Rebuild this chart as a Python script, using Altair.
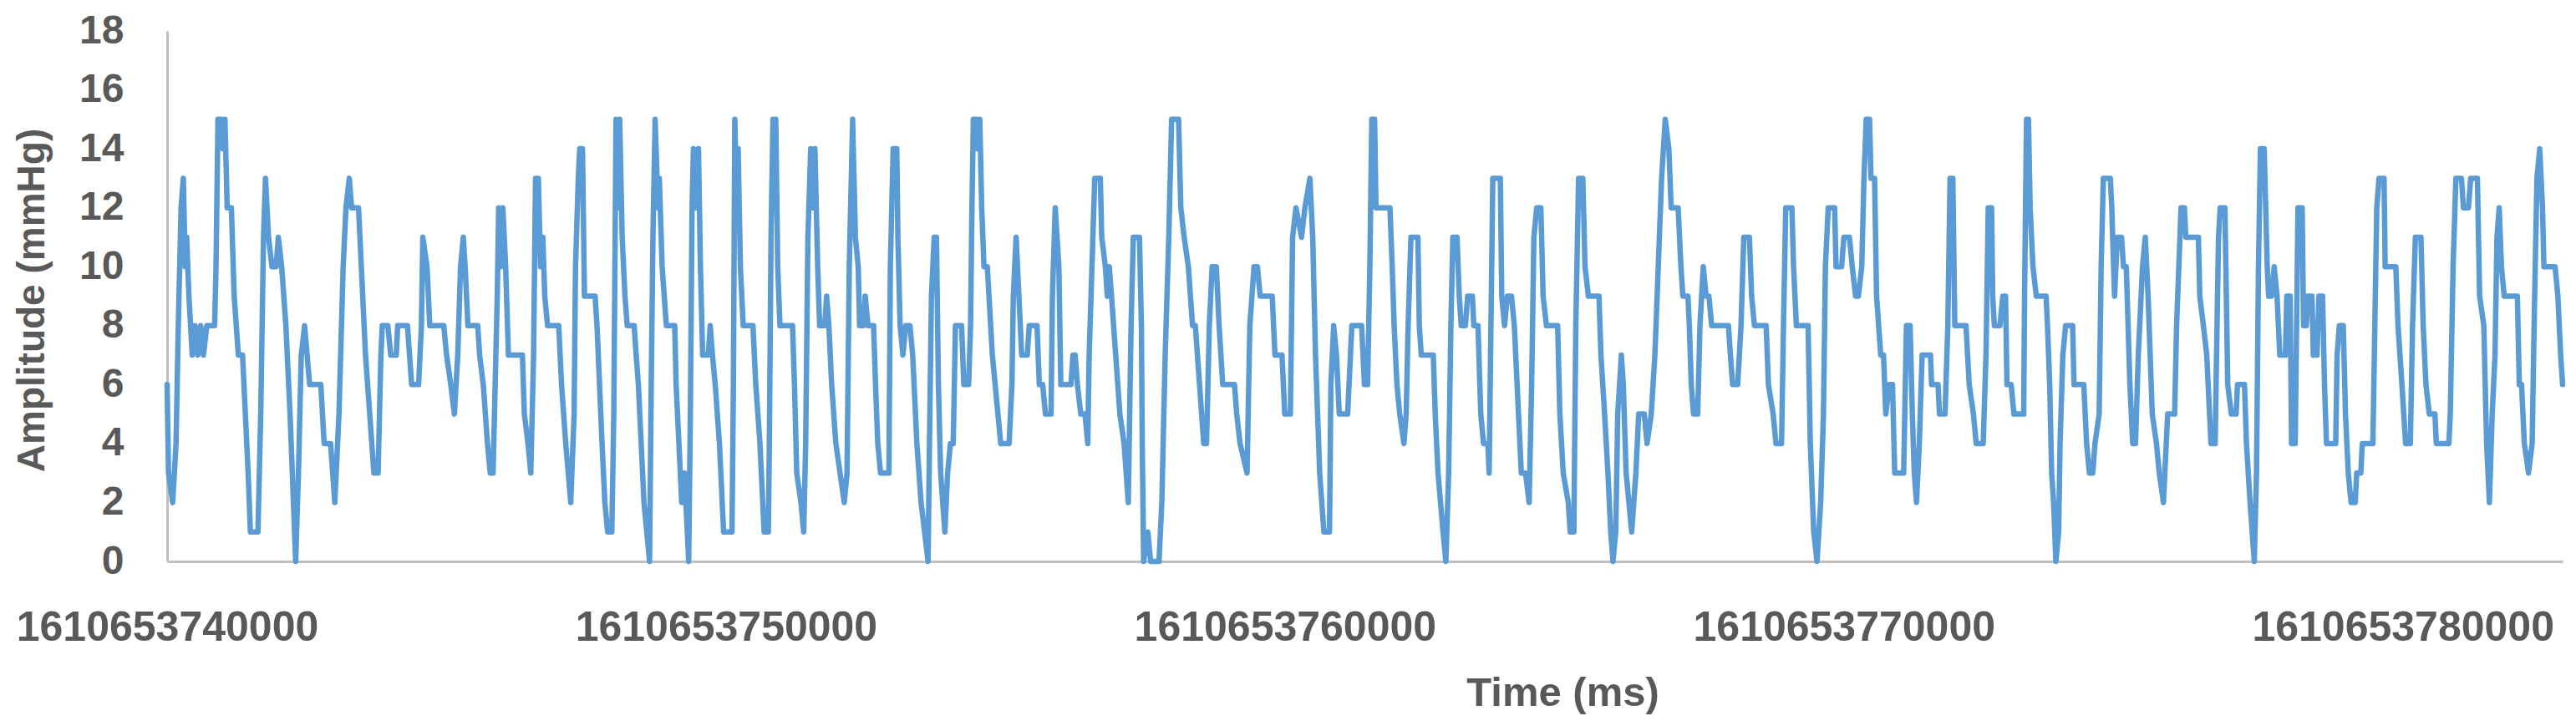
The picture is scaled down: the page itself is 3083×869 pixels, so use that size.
import altair as alt
import pandas as pd

BASE_MS = 1610653740000
X_END = 1610653782860

# (time offset from BASE_MS in ms, amplitude in mmHg)
seg1 = [(0,6),(25,3),(100,2),(160,4),(200,8),(250,12),(290,13),(325,10),(350,11),(390,9),(450,7),(500,8),(550,7),(600,8),(650,7),(710,8),(850,8),(875,10),(910,15),(975,15),(1000,14),(1035,15),(1075,12),(1150,12),(1200,9),(1275,7),(1350,7),(1450,3),(1490,1),(1625,1),(1675,5),(1725,11),(1760,13),(1815,11),(1875,10),(1950,10),(1990,11),(2050,10),(2125,8),(2200,5),(2300,0),(2350,3),(2400,7),(2460,8),(2550,6),(2750,6),(2810,4),(2925,4),(3000,2),(3075,5),(3150,10),(3200,12),(3260,13),(3300,12),(3425,12),(3550,7),(3700,3),(3775,3),(3825,7),(3850,8),(3950,8),(4000,7),(4100,7),(4125,8),(4300,8),(4375,6),(4500,6),(4550,8),(4575,11),(4650,10),(4700,8),(4950,8),(5000,7),(5075,6),(5140,5),(5200,7),(5250,10),(5300,11)]
seg2 = [(5332,10),(5382,8),(5557,8),(5592,7),(5657,6),(5732,4),(5782,3),(5832,3),(5882,7),(5907,9),(5932,12),(5972,10),(6007,12),(6057,10),(6107,7),(6357,7),(6392,5),(6457,4),(6507,3),(6557,7),(6592,13),(6642,13),(6682,10),(6722,11),(6757,9),(6807,8),(7007,8),(7057,6),(7132,4),(7222,2),(7282,5),(7307,10),(7357,13),(7382,14),(7432,14),(7467,9),(7657,9),(7692,8),(7782,4),(7832,2),(7882,1),(7957,1),(7992,5),(8032,15),(8067,12),(8097,15),(8142,11),(8192,9),(8232,8),(8357,8),(8392,7),(8432,6),(8482,4),(8532,2),(8632,0),(8662,6),(8692,11),(8732,15),(8782,12),(8807,13),(8857,10),(8932,8),(9082,8),(9107,6),(9157,4),(9207,2),(9257,3),(9332,0),(9362,5),(9392,12),(9417,14),(9472,12),(9507,14),(9542,10),(9582,7),(9682,7),(9717,8),(9757,7),(9807,6),(9882,4),(9932,2),(9957,1),(10107,1),(10132,6),(10157,15),(10192,12),(10217,14),(10257,10),(10307,8),(10482,8),(10532,6),(10607,4),(10657,2),(10682,1),(10757,1)]
seg3 = [(10775,4),(10805,11),(10840,15),(10865,12),(10890,15),(10925,10),(10965,8),(11190,8),(11225,6),(11265,3),(11340,2),(11390,1),(11425,4),(11465,11),(11515,14),(11555,12),(11590,14),(11640,10),(11675,8),(11765,8),(11800,9),(11840,8),(11890,6),(11965,4),(12040,3),(12115,2),(12165,3),(12205,10),(12265,15),(12315,11),(12365,10),(12390,8),(12455,8),(12490,9),(12540,8),(12640,8),(12675,6),(12715,4),(12765,3),(12915,3),(12940,10),(12990,14),(13055,14),(13075,11),(13115,8),(13165,7),(13215,8),(13290,8),(13340,7),(13415,4),(13490,2),(13615,0),(13640,4),(13675,9),(13725,11),(13765,11),(13800,6),(13840,3),(13915,1),(13965,3),(14015,4),(14065,4),(14105,8),(14215,8),(14255,6),(14340,6),(14375,8),(14400,12),(14425,15),(14475,15),(14495,14),(14540,15),(14575,12),(14615,10),(14675,10),(14765,7),(14865,5),(14915,4),(15065,4),(15115,6),(15140,9),(15190,11),(15240,9),(15290,7),(15390,7),(15425,8),(15565,8),(15605,6),(15665,6),(15715,5),(15815,5),(15840,9),(15890,12),(15955,10),(15990,6)]
seg4 = [(16172,6),(16207,7),(16247,7),(16287,6),(16347,5),(16422,5),(16472,4),(16497,7),(16547,10),(16597,13),(16697,13),(16722,11),(16787,10),(16822,9),(16857,10),(16897,9),(16972,7),(17047,5),(17122,4),(17197,2),(17247,8),(17287,11),(17397,11),(17432,8),(17447,4),(17472,0),(17547,1),(17597,0),(17747,0),(17797,2),(17857,7),(17922,11),(17972,15),(18097,15),(18137,12),(18197,11),(18272,10),(18347,8),(18397,8),(18472,6),(18547,4),(18597,4),(18647,8),(18697,10),(18772,10),(18822,8),(18887,6),(19097,6),(19137,5),(19197,4),(19322,3),(19372,8),(19447,10),(19507,10),(19557,9),(19772,9),(19822,7),(19947,7),(19997,5),(20097,5),(20137,11),(20197,12),(20297,11),(20357,12),(20447,13),(20497,11),(20547,7),(20622,3),(20697,1),(20797,1),(20822,6),(20872,8),(20922,7),(20972,5),(21122,5),(21197,8),(21372,8),(21422,6)]
seg5 = [(21479,6),(21519,10),(21554,15),(21604,15),(21629,12),(21654,12),(21879,12),(21919,10),(21954,8),(22004,6),(22054,5),(22129,4),(22169,5),(22204,8),(22254,11),(22379,11),(22404,8),(22439,7),(22654,7),(22689,5),(22739,3),(22829,1),(22879,0),(22929,3),(22969,8),(23004,11),(23079,11),(23119,9),(23154,8),(23229,8),(23269,9),(23354,9),(23379,8),(23454,8),(23504,5),(23554,4),(23629,4),(23654,3),(23679,7),(23719,13),(23854,13),(23879,9),(23929,8),(23979,9),(24054,9),(24104,8),(24154,6),(24229,3),(24304,3),(24369,2),(24414,6),(24454,11),(24504,12),(24579,12),(24619,9),(24679,8),(24879,8),(24919,5),(24979,3),(25069,2),(25104,1),(25169,1),(25204,8),(25254,13),(25329,13),(25369,10),(25429,9),(25619,9),(25654,7),(25719,5),(25779,3),(25829,1),(25869,0),(25919,1),(25954,5),(26019,7),(26054,6),(26104,3),(26204,1),(26279,3),(26329,5),(26429,5),(26479,4),(26554,5),(26619,7),(26679,10),(26739,13),(26804,15),(26869,14)]
seg6 = [(26910,12),(27035,12),(27085,10),(27120,9),(27210,9),(27235,8),(27270,6),(27310,5),(27385,5),(27425,8),(27485,10),(27535,9),(27585,9),(27635,8),(27935,8),(27970,7),(28010,6),(28100,6),(28160,8),(28210,11),(28310,11),(28350,9),(28400,8),(28610,8),(28650,6),(28735,5),(28785,4),(28885,4),(28920,8),(28960,12),(29070,12),(29100,10),(29150,8),(29360,8),(29400,4),(29460,1),(29520,0),(29585,2),(29635,5),(29670,10),(29720,12),(29835,12),(29860,10),(29960,10),(30000,11),(30100,11),(30150,10),(30210,9),(30260,9),(30320,10),(30360,13),(30400,15),(30460,15),(30485,13),(30550,13),(30585,9),(30660,7),(30710,7),(30750,5),(30810,6),(30870,6),(30910,3),(31010,3),(31070,3),(31120,8),(31185,8),(31225,5),(31260,3),(31300,2),(31350,4),(31400,7),(31550,7),(31570,6),(31685,6),(31710,5),(31810,5),(31860,8),(31900,13),(31950,13),(31985,8),(32185,8)]
seg7 = [(32243,6),(32318,5),(32368,4),(32493,4),(32543,7),(32583,12),(32643,12),(32663,9),(32693,8),(32793,8),(32843,9),(32893,9),(32918,6),(32993,6),(33043,5),(33218,5),(33233,9),(33268,15),(33303,15),(33333,12),(33383,10),(33443,9),(33618,9),(33643,8),(33683,6),(33718,3),(33753,2),(33793,0),(33843,1),(33868,4),(33918,7),(33968,8),(34093,8),(34118,6),(34293,6),(34343,4),(34393,3),(34453,3),(34493,4),(34568,5),(34603,10),(34643,13),(34768,13),(34793,12),(34843,9),(34893,11),(34968,11),(35003,10),(35053,10),(35118,6),(35168,4),(35218,4),(35268,7),(35343,10),(35393,11),(35443,9),(35518,5),(35593,4),(35643,3),(35718,2),(35768,4),(35793,5),(35918,5),(35953,8),(35993,10),(36033,12),(36093,12),(36118,11),(36343,11),(36368,9),(36433,8),(36493,7),(36568,4),(36643,4),(36668,7),(36703,11),(36733,12),(36818,12),(36843,9),(36868,6),(36933,5),(37018,5),(37043,6),(37168,6),(37203,4),(37268,2),(37343,0),(37383,3),(37418,10),(37453,14),(37520,14)]
seg8 = [(37575,10),(37600,9),(37650,9),(37700,10),(37750,9),(37800,7),(37900,7),(37925,9),(37985,9),(38010,4),(38075,4),(38100,8),(38125,12),(38200,12),(38225,8),(38275,8),(38300,9),(38375,9),(38400,7),(38465,7),(38500,9),(38565,9),(38600,6),(38635,4),(38800,4),(38825,7),(38865,8),(38935,8),(38975,5),(39025,3),(39075,2),(39150,2),(39175,3),(39250,3),(39275,4),(39465,4),(39500,8),(39535,12),(39575,13),(39665,13),(39685,10),(39875,10),(39915,8),(39985,6),(40050,4),(40135,4),(40175,8),(40225,11),(40325,11),(40365,8),(40415,6),(40475,5),(40575,5),(40600,4),(40825,4),(40850,5),(40900,10),(40950,13),(41050,13),(41085,12),(41175,12),(41215,13),(41335,13),(41375,9),(41450,8),(41500,4),(41550,2),(41600,5),(41650,7),(41685,11),(41725,12),(41765,10),(41815,9),(42050,9),(42085,6),(42125,6),(42175,4),(42250,3),(42315,4),(42350,8),(42400,13),(42450,14),(42500,12),(42525,10),(42725,10),(42775,9),(42825,7),(42860,6)]

x_ticks = [1610653740000, 1610653750000, 1610653760000, 1610653770000, 1610653780000]
y_ticks = [0, 2, 4, 6, 8, 10, 12, 14, 16, 18]

segments = [seg1, seg2, seg3, seg4, seg5, seg6, seg7, seg8]
df = pd.DataFrame(
    [{"time": BASE_MS + t, "amp": a} for seg in segments for t, a in seg]
)

FONT = "Liberation Sans"
TXT = "#595959"
AXIS_LINE = "#BFBFBF"

chart = (
    alt.Chart(df)
    .mark_line(color="#5B9BD5", strokeWidth=6.5, strokeJoin="round", strokeCap="round")
    .encode(
        x=alt.X(
            "time:Q",
            scale=alt.Scale(domain=[BASE_MS, X_END], nice=False, zero=False),
            axis=alt.Axis(
                values=x_ticks, format="d", title="Time (ms)", grid=False, ticks=False,
                domainColor=AXIS_LINE, domainWidth=3,
                labelFont=FONT, labelFontSize=50, labelFontWeight="bold", labelColor=TXT,
                labelPadding=54, labelFlush=False, labelOverlap=False, labelBound=False,
                labelLimit=0,
                titleFont=FONT, titleFontSize=49, titleFontWeight="bold", titleColor=TXT,
                titleX=1670, titleY=172, titleAlign="center", titleBaseline="alphabetic",
                titleLimit=0,
            ),
        ),
        y=alt.Y(
            "amp:Q",
            scale=alt.Scale(domain=[0, 18], nice=False),
            axis=alt.Axis(
                values=y_ticks, title="Amplitude (mmHg)", grid=False, ticks=False,
                domainColor=AXIS_LINE, domainWidth=3,
                labelFont=FONT, labelFontSize=48, labelFontWeight="bold", labelColor=TXT,
                labelPadding=52, labelOverlap=False, labelLimit=0,
                titleFont=FONT, titleFontSize=46, titleFontWeight="bold", titleColor=TXT,
                titleAngle=270, titleX=-162, titleY=322, titleAlign="center", titleBaseline="middle",
                titleLimit=0,
            ),
        ),
    )
    .properties(
        width=2867, height=635,
        autosize=alt.AutoSizeParams(type="none"),
        padding={"left": 192, "top": 29, "right": 8, "bottom": 192},
        background="white",
    )
    .configure_view(stroke=None)
)

chart.save("out.html", embed_options={"renderer": "svg", "actions": False})
